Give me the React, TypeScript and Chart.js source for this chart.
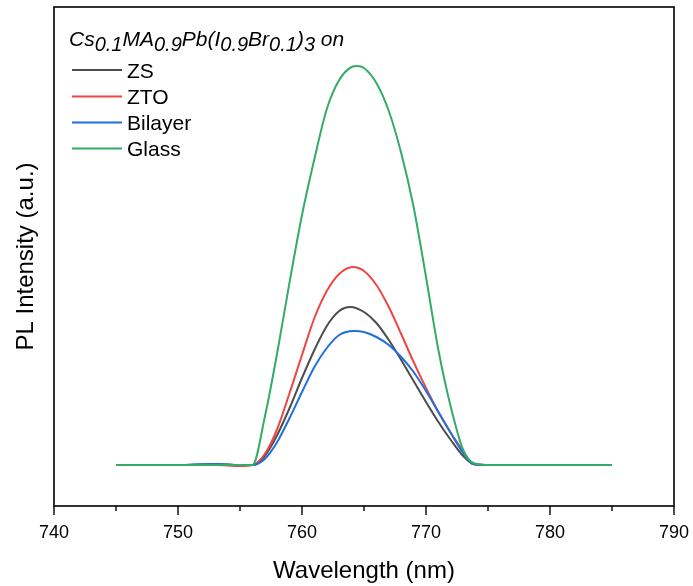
import React, { useEffect, useRef } from "react";
import { Chart, registerables } from "chart.js";

Chart.register(...registerables);

// ---- Data ----
const seriesNames = ["ZS", "ZTO", "Bilayer", "Glass"];
const seriesColors = ["#4d4d4d", "#f04545", "#1f6fe0", "#34ab68"];

const zsWavelength = [745, 750, 753, 755, 756, 757, 758, 759, 760, 761, 762, 763, 763.9, 765, 766, 767, 768, 769, 770, 771, 772, 773, 773.8, 775, 778, 782, 785];
const zsIntensity = [0, 0, 1, 0, 0, 9, 30, 57, 87, 115, 139, 154, 158, 153, 142, 125, 105, 84, 63, 43, 25, 9, 1, 0, 0, 0, 0];

const ztoWavelength = [745, 750, 753, 755, 756, 757, 758, 759, 760, 761, 762, 763, 764.1, 765, 766, 767, 768, 769, 770, 771, 772, 773, 773.8, 775, 778, 782, 785];
const ztoIntensity = [0, 0, 0, -1, 0, 11, 36, 72, 110, 147, 174, 191, 198, 194, 180, 158, 131, 103, 77, 53, 32, 14, 1, 0, 0, 0, 0];

const bilayerWavelength = [745, 750, 753, 755, 756, 757, 758, 759, 760, 761, 762, 763, 764.2, 765, 766, 767, 768, 769, 770, 771, 772, 773, 773.8, 775, 778, 782, 785];
const bilayerIntensity = [0, 0, 1, 0, 0, 6, 23, 47, 73, 98, 117, 130, 134, 133, 128, 120, 108, 93, 74, 53, 32, 12, 1, 0, 0, 0, 0];

const glassWavelength = [745, 750, 753, 755, 756, 757, 758, 759, 760, 761, 762, 763, 764, 764.45, 765, 766, 767, 768, 769, 770, 771, 772, 773, 773.8, 775, 778, 782, 785];
const glassIntensity = [0, 0, 0, 0, 0, 48, 112, 183, 250, 306, 356, 385, 398, 399, 397, 382, 354, 312, 258, 188, 115, 58, 15, 2, 0, 0, 0, 0];

const xTickValues = [740, 745, 750, 755, 760, 765, 770, 775, 780, 785, 790];
const xLabelValues = [740, 750, 760, 770, 780, 790];
const xMin = 740;
const xMax = 790;
const yMin = -41;
const yMax = 458;

const legendTitleParts: [string, boolean][] = [
  ["Cs", false], ["0.1", true], ["MA", false], ["0.9", true], ["Pb(I", false],
  ["0.9", true], ["Br", false], ["0.1", true], [")", false], ["3", true], [" on", false],
];

const FONT = "'Liberation Sans', Arial, Helvetica, sans-serif";

const toPoints = (xs: number[], ys: number[]) => xs.map((x, i) => ({ x, y: ys[i] }));

const framePlugin = {
  id: "frameAndLegend",
  afterDraw(chart: any) {
    const { ctx, chartArea } = chart;
    const { left, right, top, bottom } = chartArea;
    const xs = chart.scales.x;
    ctx.save();
    // frame
    ctx.strokeStyle = "#000";
    ctx.lineWidth = 1.6;
    ctx.strokeRect(left, top, right - left, bottom - top);
    // ticks (major/minor)
    ctx.lineWidth = 1.4;
    for (const v of xTickValues) {
      const px = xs.getPixelForValue(v);
      const len = v % 10 === 0 ? 9 : 5;
      ctx.beginPath();
      ctx.moveTo(px, bottom);
      ctx.lineTo(px, bottom + len);
      ctx.stroke();
    }
    // legend title with subscripts
    let x = left + 15;
    const baseY = 46;
    ctx.fillStyle = "#000";
    ctx.textBaseline = "alphabetic";
    ctx.textAlign = "left";
    for (const [t, sub] of legendTitleParts) {
      ctx.font = sub ? `italic 20px ${FONT}` : `italic 21px ${FONT}`;
      ctx.fillText(t, x, sub ? baseY + 5 : baseY);
      x += ctx.measureText(t).width;
    }
    // legend entries
    const rowY = [70, 96.5, 122.5, 148.5];
    ctx.font = `21px ${FONT}`;
    seriesNames.forEach((name, i) => {
      ctx.strokeStyle = seriesColors[i];
      ctx.lineWidth = 2;
      ctx.beginPath();
      ctx.moveTo(left + 18, rowY[i]);
      ctx.lineTo(left + 68, rowY[i]);
      ctx.stroke();
      ctx.fillStyle = "#000";
      ctx.fillText(name, left + 73, rowY[i] + 7.5);
    });
    ctx.restore();
  },
};

export default function App() {
  const canvasRef = useRef<HTMLCanvasElement | null>(null);

  useEffect(() => {
    if (!canvasRef.current) return;
    const xsList = [zsWavelength, ztoWavelength, bilayerWavelength, glassWavelength];
    const ysList = [zsIntensity, ztoIntensity, bilayerIntensity, glassIntensity];
    const orders = [3, 2, 1, 0];
    const chart = new Chart(canvasRef.current, {
      type: "line",
      data: {
        datasets: seriesNames.map((name, i) => ({
          label: name,
          data: toPoints(xsList[i], ysList[i]),
          borderColor: seriesColors[i],
          backgroundColor: seriesColors[i],
          borderWidth: 2,
          pointRadius: 0,
          cubicInterpolationMode: "monotone" as const,
          fill: false,
          order: orders[i],
        })),
      },
      options: {
        animation: false,
        responsive: true,
        maintainAspectRatio: false,
        layout: { padding: { top: 7, right: 19, left: 0, bottom: 0 } },
        plugins: {
          legend: { display: false },
          tooltip: { enabled: false },
        },
        scales: {
          x: {
            type: "linear",
            min: xMin,
            max: xMax,
            grid: { display: false },
            border: { display: false },
            afterBuildTicks: (scale: any) => {
              scale.ticks = xLabelValues.map((v) => ({ value: v }));
            },
            afterFit: (scale: any) => {
              scale.height = 80;
              scale.paddingLeft = 0;
              scale.paddingRight = 0;
            },
            ticks: {
              color: "#000",
              padding: 8,
              maxRotation: 0,
              autoSkip: false,
              font: { family: FONT, size: 18 },
            },
            title: {
              display: true,
              text: "Wavelength (nm)",
              color: "#000",
              font: { family: FONT, size: 24 },
              padding: { top: 0, bottom: 0 },
            },
          },
          y: {
            type: "linear",
            min: yMin,
            max: yMax,
            grid: { display: false },
            border: { display: false },
            ticks: { display: false },
            afterFit: (scale: any) => {
              scale.width = 54;
            },
            title: {
              display: true,
              text: "PL Intensity (a.u.)",
              color: "#000",
              font: { family: FONT, size: 24 },
              padding: { top: 12, bottom: 0 },
            },
          },
        },
      },
      plugins: [framePlugin],
    });
    return () => chart.destroy();
  }, []);

  return (
    <div style={{ position: "absolute", left: 0, top: 0, width: 693, height: 586, background: "#fff" }}>
      <canvas ref={canvasRef} />
    </div>
  );
}
